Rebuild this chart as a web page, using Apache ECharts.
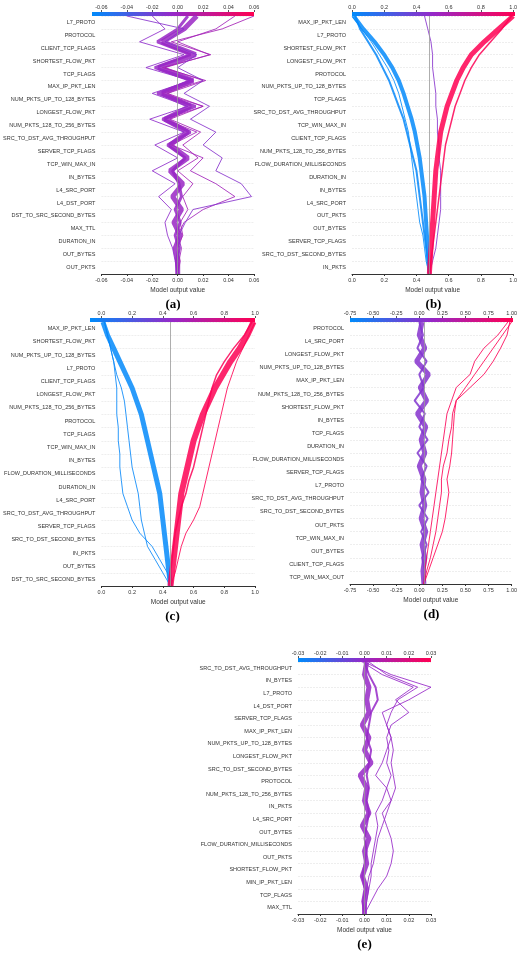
<!DOCTYPE html>
<html>
<head>
<meta charset="utf-8">
<script src="https://cdn.jsdelivr.net/npm/echarts@6/dist/echarts.min.js"></script>
<style>html,body{margin:0;padding:0;background:#fff}#chart{width:520px;height:962px}</style>
</head>
<body>
<div id="chart"></div>
<script>
// features listed top -> bottom, lines listed bottom (base) -> top (output)
var featsA = ['L7_PROTO','PROTOCOL','CLIENT_TCP_FLAGS','SHORTEST_FLOW_PKT','TCP_FLAGS','MAX_IP_PKT_LEN','NUM_PKTS_UP_TO_128_BYTES','LONGEST_FLOW_PKT','NUM_PKTS_128_TO_256_BYTES','SRC_TO_DST_AVG_THROUGHPUT','SERVER_TCP_FLAGS','TCP_WIN_MAX_IN','IN_BYTES','L4_SRC_PORT','L4_DST_PORT','DST_TO_SRC_SECOND_BYTES','MAX_TTL','DURATION_IN','OUT_BYTES','OUT_PKTS'];
var featsB = ['MAX_IP_PKT_LEN','L7_PROTO','SHORTEST_FLOW_PKT','LONGEST_FLOW_PKT','PROTOCOL','NUM_PKTS_UP_TO_128_BYTES','TCP_FLAGS','SRC_TO_DST_AVG_THROUGHPUT','TCP_WIN_MAX_IN','CLIENT_TCP_FLAGS','NUM_PKTS_128_TO_256_BYTES','FLOW_DURATION_MILLISECONDS','DURATION_IN','IN_BYTES','L4_SRC_PORT','OUT_PKTS','OUT_BYTES','SERVER_TCP_FLAGS','SRC_TO_DST_SECOND_BYTES','IN_PKTS'];
var featsC = ['MAX_IP_PKT_LEN','SHORTEST_FLOW_PKT','NUM_PKTS_UP_TO_128_BYTES','L7_PROTO','CLIENT_TCP_FLAGS','LONGEST_FLOW_PKT','NUM_PKTS_128_TO_256_BYTES','PROTOCOL','TCP_FLAGS','TCP_WIN_MAX_IN','IN_BYTES','FLOW_DURATION_MILLISECONDS','DURATION_IN','L4_SRC_PORT','SRC_TO_DST_AVG_THROUGHPUT','SERVER_TCP_FLAGS','SRC_TO_DST_SECOND_BYTES','IN_PKTS','OUT_BYTES','DST_TO_SRC_SECOND_BYTES'];
var featsD = ['PROTOCOL','L4_SRC_PORT','LONGEST_FLOW_PKT','NUM_PKTS_UP_TO_128_BYTES','MAX_IP_PKT_LEN','NUM_PKTS_128_TO_256_BYTES','SHORTEST_FLOW_PKT','IN_BYTES','TCP_FLAGS','DURATION_IN','FLOW_DURATION_MILLISECONDS','SERVER_TCP_FLAGS','L7_PROTO','SRC_TO_DST_AVG_THROUGHPUT','SRC_TO_DST_SECOND_BYTES','OUT_PKTS','TCP_WIN_MAX_IN','OUT_BYTES','CLIENT_TCP_FLAGS','TCP_WIN_MAX_OUT'];
var featsE = ['SRC_TO_DST_AVG_THROUGHPUT','IN_BYTES','L7_PROTO','L4_DST_PORT','SERVER_TCP_FLAGS','MAX_IP_PKT_LEN','NUM_PKTS_UP_TO_128_BYTES','LONGEST_FLOW_PKT','SRC_TO_DST_SECOND_BYTES','PROTOCOL','NUM_PKTS_128_TO_256_BYTES','IN_PKTS','L4_SRC_PORT','OUT_BYTES','FLOW_DURATION_MILLISECONDS','OUT_PKTS','SHORTEST_FLOW_PKT','MIN_IP_PKT_LEN','TCP_FLAGS','MAX_TTL'];

var linesA = [
  [0,0.000,-0.002,0.002,-0.003,0.003,-0.004,0.004,-0.006,0.008,-0.006,0.008,-0.010,0.010,-0.012,0.012,-0.015,0.014,-0.012,0.005,0.015],
  [0,0.001,0.003,0.000,0.005,0.020,0.045,0.030,0.010,0.020,-0.005,0.015,-0.010,0.020,-0.012,0.020,-0.010,0.025,0.000,0.030,0.045],
  [0,-0.002,-0.004,-0.008,-0.010,-0.005,-0.015,-0.002,-0.020,0.000,-0.018,0.005,-0.022,0.008,-0.020,0.010,-0.025,0.005,-0.030,-0.010,-0.020],
  [0,0.002,0.000,0.004,0.002,0.008,0.004,0.012,0.000,0.016,0.004,0.018,-0.006,0.020,-0.008,0.022,-0.012,0.026,-0.005,0.035,0.060],
  [0,-0.001,0.001,-0.002,0.002,-0.002,0.003,0.001,-0.004,0.006,-0.008,0.010,-0.012,0.014,-0.016,0.012,-0.018,0.010,-0.016,0.000,0.008],
  [0,0.000,0.002,0.001,0.006,0.012,0.058,0.050,0.030,0.035,0.020,0.030,0.010,0.025,0.005,0.020,0.000,0.015,-0.010,0.005,-0.040]
];
var widthsA = [5, 1, 1, 1, 3, 1];
var linesB = [
  [0.48,0.475,0.47,0.465,0.46,0.455,0.45,0.44,0.43,0.42,0.405,0.39,0.37,0.345,0.32,0.29,0.25,0.2,0.14,0.07,0.01],
  [0.48,0.47,0.46,0.45,0.44,0.43,0.42,0.41,0.40,0.38,0.36,0.34,0.32,0.29,0.26,0.23,0.19,0.15,0.10,0.05,0.02],
  [0.48,0.46,0.45,0.44,0.42,0.41,0.40,0.39,0.38,0.37,0.36,0.35,0.33,0.31,0.29,0.26,0.22,0.17,0.12,0.06,0.00],
  [0.48,0.50,0.52,0.53,0.54,0.55,0.55,0.55,0.55,0.54,0.54,0.53,0.53,0.52,0.52,0.51,0.50,0.50,0.49,0.47,0.45],
  [0.48,0.485,0.49,0.495,0.50,0.505,0.51,0.515,0.52,0.53,0.54,0.55,0.57,0.59,0.62,0.65,0.69,0.74,0.82,0.91,1.00],
  [0.48,0.49,0.50,0.51,0.52,0.53,0.54,0.55,0.56,0.57,0.58,0.60,0.62,0.64,0.67,0.70,0.74,0.79,0.86,0.93,0.99]
];
var widthsB = [4, 2, 1, 1, 5, 1.5];
var linesC = [
  [0.45,0.44,0.43,0.42,0.41,0.40,0.39,0.38,0.36,0.34,0.32,0.30,0.28,0.26,0.23,0.20,0.16,0.12,0.08,0.04,0.01],
  [0.45,0.40,0.35,0.30,0.28,0.26,0.25,0.24,0.22,0.20,0.19,0.18,0.17,0.16,0.15,0.13,0.10,0.08,0.06,0.04,0.02],
  [0.45,0.43,0.38,0.33,0.25,0.20,0.17,0.14,0.13,0.12,0.12,0.11,0.11,0.10,0.10,0.10,0.09,0.08,0.06,0.04,0.02],
  [0.45,0.46,0.47,0.48,0.49,0.50,0.51,0.52,0.54,0.56,0.58,0.60,0.63,0.66,0.70,0.74,0.79,0.84,0.90,0.95,0.99],
  [0.45,0.48,0.50,0.52,0.55,0.60,0.64,0.66,0.68,0.70,0.72,0.74,0.76,0.78,0.80,0.82,0.85,0.88,0.92,0.96,1.00],
  [0.45,0.45,0.46,0.47,0.48,0.50,0.52,0.55,0.57,0.60,0.62,0.64,0.66,0.68,0.70,0.72,0.75,0.80,0.86,0.93,0.98]
];
var widthsC = [5, 1, 1, 6, 1, 1.5];
var linesD = [
  [0.05,0.04,0.06,0.03,0.07,0.02,0.06,0.03,0.05,0.00,0.06,0.02,0.07,-0.02,0.08,0.01,0.10,-0.03,0.06,0.00,0.03],
  [0.05,0.06,0.03,0.08,0.02,0.09,0.00,0.10,0.02,0.08,-0.02,0.09,0.00,0.06,-0.05,0.05,0.00,0.08,-0.02,0.04,0.00],
  [0.05,0.10,0.15,0.20,0.25,0.28,0.30,0.32,0.30,0.33,0.35,0.36,0.37,0.38,0.40,0.50,0.60,0.70,0.80,0.90,1.00],
  [0.05,0.08,0.12,0.15,0.18,0.20,0.22,0.24,0.24,0.26,0.30,0.32,0.35,0.36,0.40,0.55,0.70,0.80,0.88,0.95,0.98],
  [0.05,0.06,0.08,0.10,0.12,0.14,0.16,0.18,0.20,0.22,0.24,0.26,0.28,0.30,0.35,0.40,0.55,0.60,0.70,0.85,0.96]
];
var widthsD = [5, 2, 1, 1, 1];
var linesE = [
  [0,0.000,0.001,-0.001,0.001,0.000,0.002,-0.001,0.002,0.000,0.001,-0.002,0.003,0.000,0.002,-0.001,0.002,0.001,0.002,0.000,0.001],
  [0,0.003,0.006,0.010,0.012,0.013,0.012,0.010,0.008,0.012,0.010,0.005,0.008,0.010,0.012,0.010,0.008,0.020,0.030,0.012,0.000],
  [0,0.000,0.001,0.002,0.004,0.005,0.006,0.008,0.010,0.012,0.014,0.013,0.012,0.013,0.012,0.010,0.012,0.015,0.024,0.010,0.002],
  [0,0.001,0.002,0.003,0.003,0.004,0.005,0.006,0.005,0.008,0.010,0.012,0.010,0.011,0.010,0.012,0.020,0.014,0.022,0.008,-0.001],
  [0,-0.001,0.000,-0.001,0.000,0.001,0.000,0.001,0.002,0.001,0.002,0.001,0.002,0.003,0.001,0.002,0.003,0.006,0.005,0.002,0.000]
];
var widthsE = [5, 1, 1, 1, 2];

// cspan: how much of the colour bar the panel's outputs spread over
var panels = [
  {feats: featsA, lines: linesA, widths: widthsA, min: -0.06, max: 0.06, step: 0.02, dec: 2, base: 0, cspan: 0.15, box: [92, 16, 162, 258], tag: '(a)'},
  {feats: featsB, lines: linesB, widths: widthsB, min: 0, max: 1, step: 0.2, dec: 1, base: 0.48, cspan: 1, box: [352, 16, 163, 258], tag: '(b)'},
  {feats: featsC, lines: linesC, widths: widthsC, min: 0, max: 1, step: 0.2, dec: 1, base: 0.45, cspan: 1, box: [90, 322, 165, 264], tag: '(c)'},
  {feats: featsD, lines: linesD, widths: widthsD, min: -0.75, max: 1, step: 0.25, dec: 2, base: 0.05, cspan: 1, box: [350, 322, 163, 262], tag: '(d)'},
  {feats: featsE, lines: linesE, widths: widthsE, min: -0.03, max: 0.03, step: 0.01, dec: 2, base: 0, cspan: 0.15, box: [298, 662, 133, 252], tag: '(e)'}
];

function mix(a, b, t) {
  return [0, 1, 2].map(function(i) { return Math.round(a[i] + (b[i] - a[i]) * t); });
}
function shapColor(t) {
  var blue = [0, 139, 251], purple = [150, 40, 200], red = [255, 0, 82];
  t = Math.max(0, Math.min(1, t));
  var c = t < 0.5 ? mix(blue, purple, t * 2) : mix(purple, red, (t - 0.5) * 2);
  return 'rgb(' + c.join(',') + ')';
}

var grid = [], xAxis = [], yAxis = [], series = [], graphic = [];
panels.forEach(function(p, k) {
  var b = p.box;
  grid.push({left: b[0], top: b[1], width: b[2], height: b[3]});
  var lab = function(v) { return v.toFixed(p.dec); };
  xAxis.push({type: 'value', gridIndex: k, min: p.min, max: p.max, interval: p.step, position: 'bottom',
    name: 'Model output value', nameLocation: 'middle', nameGap: 13, nameTextStyle: {fontSize: 6.5, color: '#333'},
    axisLine: {show: true, lineStyle: {color: '#333'}}, axisTick: {length: 2}, splitLine: {show: false},
    axisLabel: {fontSize: 5.5, color: '#333', margin: 3, formatter: lab}});
  xAxis.push({type: 'value', gridIndex: k, min: p.min, max: p.max, interval: p.step, position: 'top', offset: 4,
    axisLine: {show: false}, axisTick: {length: 2}, splitLine: {show: false},
    axisLabel: {fontSize: 5.5, color: '#333', margin: 2, formatter: lab}});
  yAxis.push({type: 'category', gridIndex: k, data: p.feats.slice().reverse(), boundaryGap: true,
    axisLine: {show: false}, axisTick: {show: false}, splitLine: {show: false},
    axisLabel: {fontSize: 5.5, color: '#333', margin: 6}});
  yAxis.push({type: 'value', gridIndex: k, min: 0, max: 20, interval: 1, show: true,
    axisLine: {show: false}, axisTick: {show: false}, axisLabel: {show: false},
    splitLine: {show: true, lineStyle: {color: '#ddd', type: 'dashed', width: 0.5}}});
  p.lines.forEach(function(v, j) {
    var last = v[v.length - 1];
    var t = 0.5 + p.cspan * ((last - p.min) / (p.max - p.min) - 0.5);
    series.push({type: 'line', xAxisIndex: 2 * k, yAxisIndex: 2 * k + 1, symbol: 'none', silent: true,
      data: v.map(function(x, i) { return [x, i]; }),
      lineStyle: {width: p.widths[j], color: shapColor(t), opacity: 0.85},
      markLine: j === 0 ? {silent: true, symbol: 'none', label: {show: false},
        lineStyle: {color: '#999', type: 'solid', width: 0.8}, data: [{xAxis: p.base}]} : undefined,
      z: 3});
  });
  graphic.push({type: 'rect', shape: {x: b[0], y: b[1] - 4, width: b[2], height: 4},
    style: {fill: new echarts.graphic.LinearGradient(0, 0, 1, 0, [
      {offset: 0, color: shapColor(0)}, {offset: 0.5, color: shapColor(0.5)}, {offset: 1, color: shapColor(1)}])}});
  graphic.push({type: 'text', x: b[0] + b[2] / 2, y: b[1] + b[3] + 24,
    style: {text: p.tag, fontFamily: 'Liberation Serif', fontWeight: 'bold', fontSize: 13, fill: '#000', textAlign: 'center'}});
});

var chart = echarts.init(document.getElementById('chart'));
chart.setOption({backgroundColor: '#fff', animation: false, grid: grid, xAxis: xAxis, yAxis: yAxis, series: series, graphic: graphic});
</script>
</body>
</html>
